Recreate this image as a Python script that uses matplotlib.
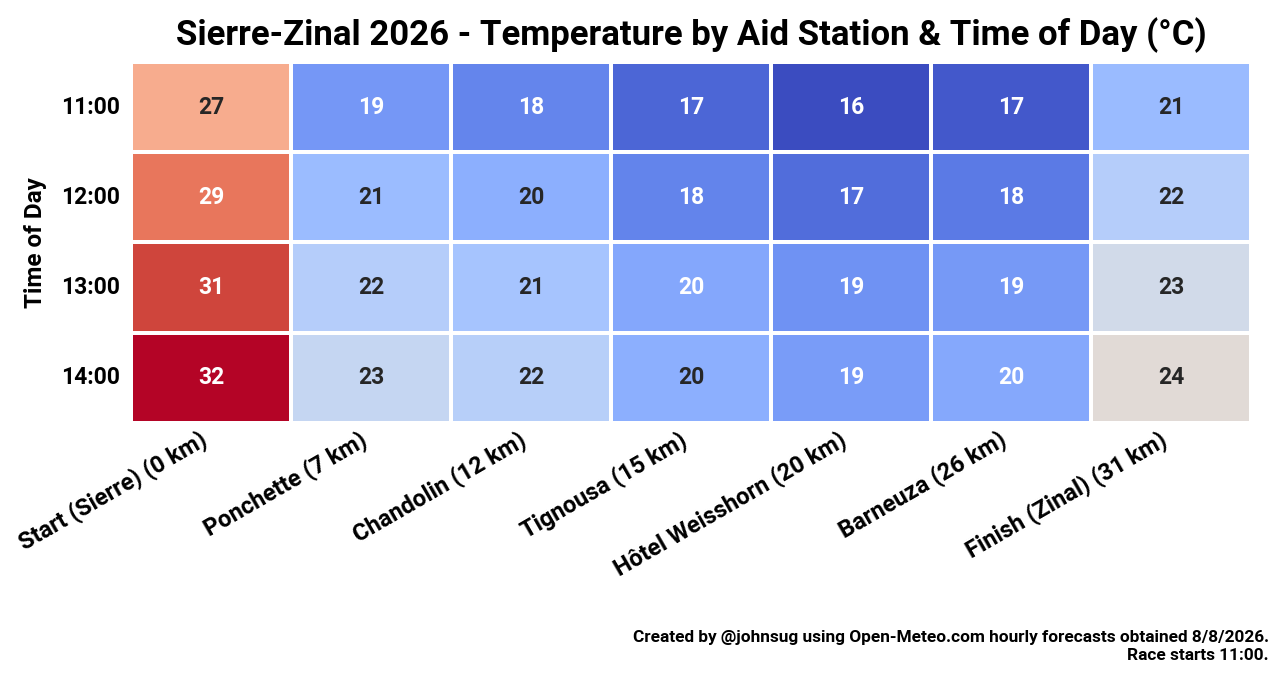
import numpy as np
import pandas as pd
import matplotlib
matplotlib.use("Agg")
import matplotlib.pyplot as plt
import seaborn as sns

stations = ["Start (Sierre) (0 km)", "Ponchette (7 km)", "Chandolin (12 km)",
            "Tignousa (15 km)", "Hôtel Weisshorn (20 km)", "Barneuza (26 km)",
            "Finish (Zinal) (31 km)"]
hours = ["11:00", "12:00", "13:00", "14:00"]

# temperatures (C), rounded labels match the picture
temp_1100 = [27.4, 19.0, 18.3, 17.1, 16.1, 16.6, 20.7]
temp_1200 = [29.45, 20.8, 20.1, 18.2, 17.3, 17.8, 22.0]
temp_1300 = [31.0, 22.0, 21.3, 19.7, 18.8, 19.1, 23.4]
temp_1400 = [32.2, 22.8, 22.1, 20.1, 19.2, 19.8, 24.45]

df = pd.DataFrame([temp_1100, temp_1200, temp_1300, temp_1400],
                  index=hours, columns=stations)

plt.rcParams['font.family'] = ['Roboto', 'DejaVu Sans']
plt.rcParams['font.weight'] = 'bold'

fig = plt.figure(figsize=(12.88, 6.82), dpi=100)
ax = fig.add_axes([0.1017, 0.380, 0.8696, 0.529])

sns.heatmap(df, ax=ax, cmap="coolwarm", annot=True, fmt=".0f", cbar=False,
            linewidths=1.5, linecolor="white",
            annot_kws={"fontsize": 16.5, "fontweight": "bold"})

ax.set_title("Sierre-Zinal 2026 - Temperature by Aid Station & Time of Day (°C)",
             fontsize=25, fontweight="bold", pad=12)
ax.set_ylabel("Time of Day", fontsize=17.5, fontweight="bold", labelpad=10)
ax.set_xlabel("")
ax.tick_params(axis="y", length=0, labelsize=16.5, pad=8)
ax.tick_params(axis="x", length=0, labelsize=17)
plt.setp(ax.get_yticklabels(), rotation=0, fontweight="bold")
plt.setp(ax.get_xticklabels(), rotation=30, ha="right", fontweight="bold")

fig.text(0.985, 0.028, "Created by @johnsug using Open-Meteo.com hourly forecasts obtained 8/8/2026.\nRace starts 11:00.",
         ha="right", va="bottom", fontsize=12.4, fontweight="bold", linespacing=1.25)

fig.savefig("out.png", dpi=100)
